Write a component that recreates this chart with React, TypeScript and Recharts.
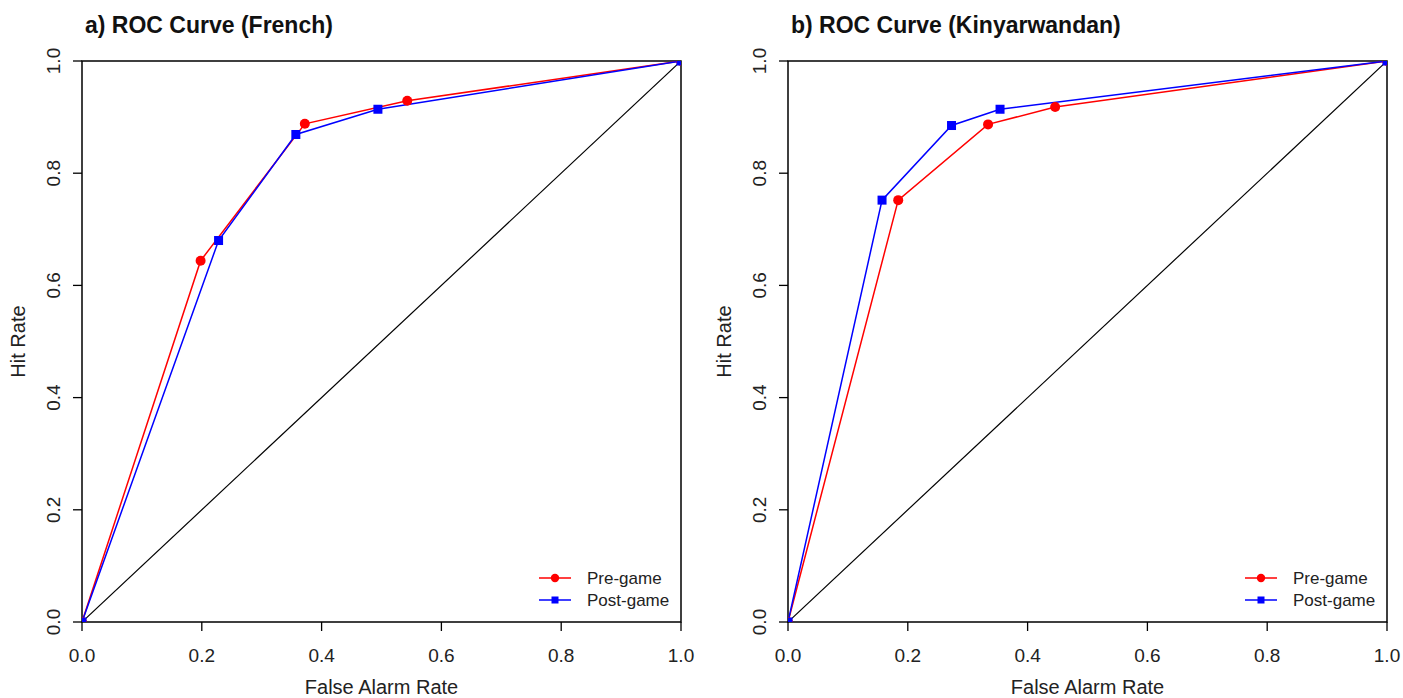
import React from 'react';
import { LineChart, Line, XAxis, YAxis, ReferenceArea } from 'recharts';

// false alarm rate / hit rate
const frenchPreFar = [0, 0.198, 0.372, 0.543, 1];
const frenchPreHit = [0, 0.644, 0.888, 0.929, 1];
const frenchPostFar = [0, 0.228, 0.357, 0.494, 1];
const frenchPostHit = [0, 0.68, 0.869, 0.914, 1];

const kinPreFar = [0, 0.184, 0.334, 0.446, 1];
const kinPreHit = [0, 0.752, 0.887, 0.918, 1];
const kinPostFar = [0, 0.157, 0.273, 0.354, 1];
const kinPostHit = [0, 0.752, 0.885, 0.914, 1];

const chanceFar = [0, 1];
const chanceHit = [0, 1];

const ticks = [0, 0.2, 0.4, 0.6, 0.8, 1];
const seriesNames = ['Pre-game', 'Post-game'];

const FONT = '"Liberation Sans", Arial, Helvetica, sans-serif';
const RED = '#ff0000';
const BLUE = '#0000ff';

const toPoints = (far: number[], hit: number[]) => far.map((x, i) => ({ x, y: hit[i] }));

const CircleDot = (props: any) => {
  const { cx, cy, index } = props;
  if (cx == null || cy == null) return <g key={index} />;
  return <circle key={index} cx={cx} cy={cy} r={5} fill={RED} />;
};

const SquareDot = (props: any) => {
  const { cx, cy, index } = props;
  if (cx == null || cy == null) return <g key={index} />;
  return <rect key={index} x={cx - 4.5} y={cy - 4.5} width={9} height={9} fill={BLUE} />;
};

const XTick = ({ x, y, payload }: any) => (
  <text x={x} y={y} dy={29} textAnchor="middle" fontSize={19} fontFamily={FONT} fill="#222">
    {payload.value.toFixed(1)}
  </text>
);

const YTick = ({ x, y, payload }: any) => (
  <text
    x={x - 11}
    y={y}
    transform={`rotate(-90, ${x - 11}, ${y})`}
    textAnchor="middle"
    fontSize={19}
    fontFamily={FONT}
    fill="#222"
  >
    {payload.value.toFixed(1)}
  </text>
);

// legend drawn as an overlay so it doesn't take space from the plot area
const LegendBox = () => (
  <svg width={200} height={50} style={{ position: 'absolute', left: 530, top: 565 }}>
    <line x1={9} x2={41} y1={13} y2={13} stroke={RED} strokeWidth={1.5} />
    <circle cx={25} cy={13} r={4.2} fill={RED} />
    <text x={57} y={19} fontSize={17} fontFamily={FONT} fill="#222">{seriesNames[0]}</text>
    <line x1={9} x2={41} y1={35} y2={35} stroke={BLUE} strokeWidth={1.5} />
    <rect x={21.5} y={31.5} width={7} height={7} fill={BLUE} />
    <text x={57} y={41} fontSize={17} fontFamily={FONT} fill="#222">{seriesNames[1]}</text>
  </svg>
);

interface PanelProps {
  title: string;
  pre: { x: number; y: number }[];
  post: { x: number; y: number }[];
  left: number;
}

const RocPanel = ({ title, pre, post, left }: PanelProps) => {
  const chance = toPoints(chanceFar, chanceHit);
  return (
    <div style={{ position: 'absolute', left, top: 0, width: 700, height: 698 }}>
      <div
        style={{
          position: 'absolute',
          left: 85,
          top: 14,
          fontFamily: FONT,
          fontWeight: 'bold',
          fontSize: 23,
          lineHeight: '23px',
          color: '#111',
          whiteSpace: 'nowrap',
        }}
      >
        {title}
      </div>
      <LineChart width={700} height={698} margin={{ top: 61, right: 19, bottom: 16, left: 22 }}>
        <XAxis
          type="number"
          dataKey="x"
          domain={[0, 1]}
          ticks={ticks}
          interval={0}
          allowDataOverflow
          axisLine={false}
          tickLine={{ stroke: '#000', strokeWidth: 1.3 }}
          tickSize={9}
          tickMargin={2}
          height={60}
          tick={<XTick />}
          label={{
            content: ({ viewBox }: any) => (
              <text
                x={viewBox.x + viewBox.width / 2}
                y={viewBox.y + 72}
                textAnchor="middle"
                fontSize={20}
                fontFamily={FONT}
                fill="#222"
              >
                False Alarm Rate
              </text>
            ),
          }}
        />
        <YAxis
          type="number"
          dataKey="y"
          domain={[0, 1]}
          ticks={ticks}
          interval={0}
          allowDataOverflow
          axisLine={false}
          tickLine={{ stroke: '#000', strokeWidth: 1.3 }}
          tickSize={9}
          tickMargin={2}
          width={60}
          tick={<YTick />}
          label={{
            content: ({ viewBox }: any) => {
              const cx = viewBox.x + 3;
              const cy = viewBox.y + viewBox.height / 2;
              return (
                <text
                  x={cx}
                  y={cy}
                  transform={`rotate(-90, ${cx}, ${cy})`}
                  textAnchor="middle"
                  fontSize={20}
                  fontFamily={FONT}
                  fill="#222"
                >
                  Hit Rate
                </text>
              );
            },
          }}
        />
        <ReferenceArea x1={0} x2={1} y1={0} y2={1} fill="none" stroke="#000" strokeWidth={1.5} ifOverflow="visible" />
        <Line
          data={chance}
          dataKey="y"
          stroke="#000"
          strokeWidth={1.2}
          dot={false}
          activeDot={false}
          isAnimationActive={false}
          legendType="none"
        />
        <Line
          data={pre}
          dataKey="y"
          name={seriesNames[0]}
          stroke={RED}
          strokeWidth={1.5}
          dot={CircleDot}
          activeDot={false}
          isAnimationActive={false}
        />
        <Line
          data={post}
          dataKey="y"
          name={seriesNames[1]}
          stroke={BLUE}
          strokeWidth={1.5}
          dot={SquareDot}
          activeDot={false}
          isAnimationActive={false}
        />
      </LineChart>
      <LegendBox />
    </div>
  );
};

export default function App() {
  return (
    <div style={{ position: 'absolute', left: 0, top: 0, width: 1403, height: 698, background: '#fff' }}>
      <RocPanel
        title="a) ROC Curve (French)"
        pre={toPoints(frenchPreFar, frenchPreHit)}
        post={toPoints(frenchPostFar, frenchPostHit)}
        left={0}
      />
      <RocPanel
        title="b) ROC Curve (Kinyarwandan)"
        pre={toPoints(kinPreFar, kinPreHit)}
        post={toPoints(kinPostFar, kinPostHit)}
        left={706}
      />
    </div>
  );
}
